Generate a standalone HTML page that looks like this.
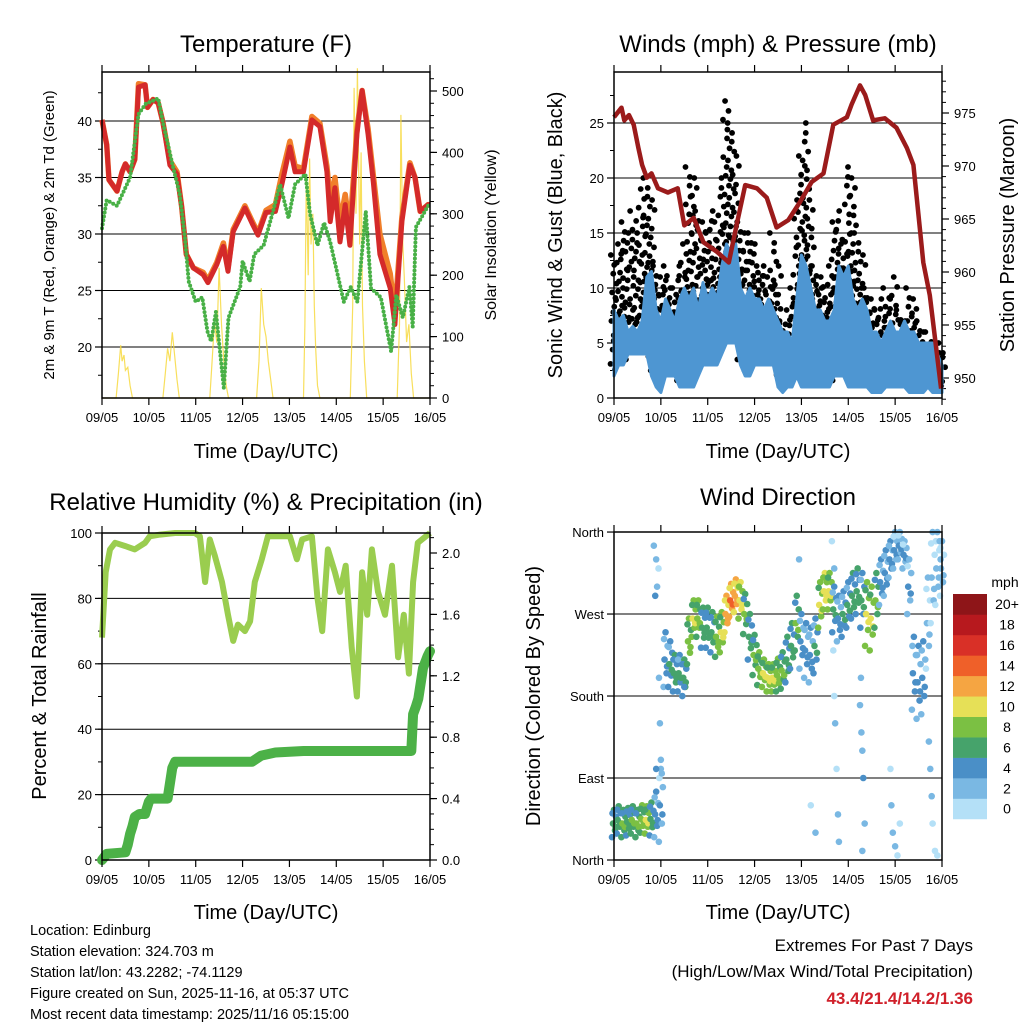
<!DOCTYPE html>
<html><head><meta charset="utf-8"><style>
body{margin:0;background:#fff;}
svg{display:block;font-family:"Liberation Sans",Arial,sans-serif;}
</style></head><body>
<svg id="c" width="1024" height="1024" viewBox="0 0 1024 1024"></svg>
<script>
// ---------- Temperature data ----------
const tempT=[0,.1,.15,.32,.43,.5,.6,.7,.78,.92,.97,1.09,1.2,1.3,1.45,1.6,1.7,1.8,1.95,2.16,2.26,2.45,2.59,2.69,2.8,3.05,3.22,3.33,3.5,3.7,3.84,4.01,4.12,4.3,4.48,4.65,4.8,4.87,4.97,5.08,5.19,5.29,5.44,5.55,5.68,5.79,5.93,6.15,6.25,6.4,6.57,6.68,6.79,6.96,7];
const tempRed=[40.1,37.9,34.8,33.8,35.5,36.2,35.5,36.6,43,43.2,41.2,41.9,41.6,39.9,36.1,35.3,32.4,28.2,27,26.4,25.7,27.3,28.9,26.7,30.2,32.3,30.8,29.9,31.9,32,34.4,37.7,35.5,35.5,40.1,39.5,35.5,31.1,34.1,29.3,32.6,29,38.8,42.7,38.8,34.6,28.2,25.2,22,31.1,36.1,35,32,32.6,32.6];
const tempOrange=[40.1,37.9,34.8,33.8,35.5,36.2,35.5,36.6,43.3,43.2,41.2,41.9,41.6,39.9,36.5,35.5,32.4,28.2,27,26.6,25.9,27.5,29.2,27,30.4,32.5,31,30.1,32.1,32.6,35.3,38.2,36,35.8,40.4,39.8,36,33,35,31,33.5,30.5,39.2,42.7,39.3,35.2,30,26.5,23,31.5,36.3,35,32,32.6,32.6];
const tdT=[0,.1,.32,.6,.78,.93,1.2,1.3,1.5,1.66,1.77,1.85,2,2.14,2.25,2.33,2.43,2.6,2.7,2.95,3,3.15,3.25,3.45,3.65,3.8,3.98,4.12,4.34,4.44,4.6,4.74,4.87,5.16,5.31,5.45,5.63,5.74,5.95,6.17,6.28,6.42,6.56,6.63,6.7,6.96,7];
const tdVal=[30.5,33,32.5,35,40.6,41.5,42,39.9,36.2,33.5,29.7,25.8,24,24.4,21.4,20.5,23.1,16.4,22.6,25.3,27.6,25.8,28.2,29,32,34.4,31.4,34.4,35.3,31.8,29,31,29.3,24,25.3,24,32,25.2,24.4,19.6,24.6,22.6,25.3,21.8,30.6,32.5,32.5];
const solT=[0,.3,.35,.4,.43,.47,.5,.55,.6,.65,1.3,1.35,1.4,1.45,1.5,1.55,1.6,1.65,2.3,2.35,2.4,2.45,2.5,2.55,2.6,2.65,2.7,3.3,3.35,3.4,3.45,3.5,3.55,3.6,3.65,4.3,4.33,4.36,4.4,4.43,4.46,4.5,4.53,4.56,4.6,4.65,5.3,5.35,5.38,5.42,5.45,5.5,5.53,5.56,5.6,5.65,6.3,6.35,6.38,6.42,6.45,6.5,6.55,6.6,6.65,7];
const solVal=[0,0,40,86,60,70,45,50,20,0,0,40,81,60,107,70,30,0,0,60,124,90,212,120,60,20,0,0,60,179,120,100,60,30,0,0,120,363,200,390,250,300,150,80,20,0,0,150,505,300,537,250,400,150,60,0,0,120,461,250,200,91,120,40,0,0];
const tempTicks=[20,25,30,35,40];
const solTicks=[0,100,200,300,400,500];
const dayLabels=["09/05","10/05","11/05","12/05","13/05","14/05","15/05","16/05"];
// ---------- Wind data (0.1-day step) ----------
const windHi=[8,7,7.5,6,6.5,6,7,11,11.5,8,7,9,8,7,9,10,9,10,8,10.5,9,10,9,12,14,13,14,10,9,10,9,9,8,9,8,7,6,6,5,9,13,12,10,8,8,7,7,8,12,11,12,9,8,9,8,6,6,5,6,7,6,6,7,6,6,5,5,5,5,4,3];
const windLo=[2,3,3,4,4,4,4,4,2,1,0.5,2,2,2,1,1,1,1,2,3,3,3,3,4,5,5,5,3,2,2,3,3,3,3,3,1,0.5,1,1,2,1,1,1,1,1,1,1,2,2,2,1,1,1,1,1,0.5,0.5,0.5,1,1,1,1,1,0.5,0.5,0.5,0.5,1,0.5,0.5,0.5];
const gustHi=[13,14,16,15,17,15,19,20,18,12,11,12,10,10,12,14,21,20,17,16,15,17,16,20,27,25,22,16,15,15,14,12,12,11,15,12,7,8,10,18,22,25,18,12,11,10,12,16,17,14,21,20,15,13,10,9,8,9,10,9,11,8,7,10,9,7,6,6,5,5,5];
const presT=[0,.16,.22,.32,.42,.52,.6,.7,.8,.94,1.15,1.36,1.5,1.7,1.91,2.2,2.45,2.63,2.8,3.05,3.26,3.47,3.72,3.97,4.22,4.47,4.68,4.97,5.07,5.25,5.36,5.53,5.78,6.03,6.25,6.39,6.6,6.74,6.98];
const presVal=[974.6,975.5,974.3,974.8,973.9,971.7,970.1,968.9,969.3,967.9,967.5,967.9,964.4,965.1,962.8,961.9,960.9,964.7,968.2,967.9,967,964.2,964.9,966.6,968.5,969.3,973.9,974.6,975.8,977.6,976.7,974.3,974.5,973.6,971.7,970.1,960.9,957.8,949];
const windTicks=[0,5,10,15,20,25];
const presTicks=[950,955,960,965,970,975];
// ---------- RH / precip ----------
const rhT=[0,.08,.17,.28,.5,.7,.92,1.02,1.24,1.56,1.98,2.09,2.2,2.3,2.41,2.56,2.69,2.8,2.9,3.05,3.16,3.26,3.41,3.54,4.01,4.16,4.27,4.48,4.6,4.7,4.82,4.97,5.08,5.2,5.33,5.44,5.55,5.66,5.76,5.89,6.04,6.19,6.32,6.44,6.55,6.64,6.74,7];
const rhVal=[68,88,95,97,96,95,97,99,99.5,100,100,99,85,98,93,85,75,67,72,70,73,85,92,99,99,92,98,99,80,70,95,88,82,90,65,50,88,75,95,82,75,90,62,75,57,85,97,100];
const prT=[0,.1,.5,.55,.6,.65,.7,.8,.92,1.0,1.05,1.4,1.5,1.56,3.2,3.4,3.7,4.3,6.6,6.64,6.7,6.75,6.85,6.95,7];
const prVal=[0,.04,.05,.1,.17,.22,.28,.3,.3,.38,.4,.4,.6,.64,.64,.68,.7,.71,.71,.95,1.0,1.05,1.25,1.33,1.36];
const rhTicks=[0,20,40,60,80,100];
const prTicks=[0,0.4,0.8,1.2,1.6,2.0];
// ---------- Wind direction ----------
const dirC=[40,44,40,42,44,40,45,44,45,50,60,220,215,205,205,200,240,265,265,255,255,250,245,250,270,285,290,285,270,245,225,210,205,200,200,203,208,220,235,260,240,230,225,235,280,295,295,275,265,270,280,290,295,285,270,265,285,305,315,330,340,345,335,300,205,195,200,260,310,320,320];
const dirS=[15,15,15,15,15,15,15,15,18,25,40,30,25,20,20,20,25,20,20,22,22,22,22,22,20,18,18,20,22,25,22,18,15,15,15,18,20,25,25,30,30,30,30,30,25,20,20,25,25,25,25,25,25,30,35,35,30,25,25,20,20,15,15,30,40,40,40,50,50,40,30];
const dirSpd=[6,6,7,6,7,7,8,9,6,4,3,4,5,6,5,6,8,9,8,6,6,6,8,9,12,13,12,10,7,6,7,8,9,9,9,8,7,6,6,7,4,4,4,5,9,10,9,5,4,5,5,6,6,5,9,9,7,4,4,4,3,3,3,3,4,4,4,2,2,2,2];
const outT=[.85,.9,.95,.88,.92,.96,.98,1.0,1.02,.9,4.65,4.7,4.72,4.75,4.78,4.8,4.7,4.68,5.25,5.28,5.3,5.32,5.35,5.3,5.27,5.92,5.95,6.0,6.05,5.9,6.1,6.72,6.75,6.78,6.8,6.85,6.9,6.95,6.97,4.2,4.3,3.95,1.5];
const outD=[345,330,320,290,300,200,150,110,95,100,350,320,150,100,50,20,180,230,170,140,120,90,40,10,200,60,30,15,5,100,40,130,100,70,40,10,5,350,330,60,30,330,190];
const outS=[2,3,1,4,3,2,2,3,3,4,1,2,2,1,2,2,1,1,3,2,3,4,2,2,2,3,2,2,1,1,1,3,2,2,1,1,1,3,3,1,2,2,5];
const dirLabels=["North","East","South","West","North"];
const spdColors=["#b4e0f7","#7ab8e3","#4a8fc7","#46a36b","#7bc043","#e6e057","#f5a542","#ef6029","#d93027","#b7191e","#8e1518"];
const spdLabels=["0","2","4","6","8","10","12","14","16","18","20+"];

const NS="http://www.w3.org/2000/svg";
const svg=document.getElementById('c');
function mk(tag,attrs,parent){const e=document.createElementNS(NS,tag);for(const k in attrs)e.setAttribute(k,attrs[k]);(parent||svg).appendChild(e);return e;}
function txt(s,x,y,size,anchor,parent,extra){const e=mk('text',Object.assign({x:x,y:y,'font-size':size,'text-anchor':anchor||'middle',fill:'#000'},extra||{}),parent);e.textContent=s;return e;}
function poly(ts,vs,sx,sy){return ts.map((t,i)=>sx(t).toFixed(1)+','+sy(vs[i]).toFixed(1)).join(' ');}

function panel(name){
  const g=mk('g',{});
  
  
  return g;
}
function frame(g,x0,x1,y0,y1){
  const r=mk('rect',{x:x0,y:y0,width:x1-x0,height:y1-y0,fill:'none',stroke:'#000','stroke-width':1.5},g);
  
  
}
function xAxis(g,x0,x1,y0,y1,titleY){
  const sx=t=>x0+(x1-x0)*t/7;
  const ax=mk('g',{},g);
  
  
  dayLabels.forEach((l,i)=>{
    const x=sx(i);
    mk('line',{x1:x,x2:x,y1:y1,y2:y1+7,stroke:'#000','stroke-width':1.2},ax);
    mk('line',{x1:x,x2:x,y1:y0,y2:y0-7,stroke:'#000','stroke-width':1.2},ax);
    const t=txt(l,x,y1+24,13,'middle',ax);
    
    
  });
  const tt=txt('Time (Day/UTC)',(x0+x1)/2,titleY,20,'middle',ax);
  
  
}
function leftTicks(g,x0,x1,ticks,sy,minorStep,lo,hi,grid,labelFn){
  const ax=mk('g',{},g);
  
  
  ticks.forEach(v=>{
    const y=sy(v);
    if(grid) mk('line',{x1:x0,x2:x1,y1:y,y2:y,stroke:'#000','stroke-width':1},ax);
    mk('line',{x1:x0,x2:x0-7,y1:y,y2:y,stroke:'#000','stroke-width':1.2},ax);
    const t=txt(labelFn?labelFn(v):String(v),x0-10,y+5,13,'end',ax);
    
    
  });
  if(minorStep){for(let v=Math.ceil(lo/minorStep)*minorStep;v<=hi;v+=minorStep){mk('line',{x1:x0,x2:x0-4,y1:sy(v),y2:sy(v),stroke:'#000','stroke-width':1},ax);}}
}
function rightTicks(g,x1,ticks,sy,minorStep,lo,hi,fmt){
  const ax=mk('g',{},g);
  
  
  ticks.forEach(v=>{
    const y=sy(v);
    mk('line',{x1:x1,x2:x1+7,y1:y,y2:y,stroke:'#000','stroke-width':1.2},ax);
    const t=txt(fmt?fmt(v):String(v),x1+12,y+5,13,'start',ax);
    
    
  });
  if(minorStep){for(let v=lo;v<=hi+1e-9;v+=minorStep){mk('line',{x1:x1,x2:x1+4,y1:sy(v),y2:sy(v),stroke:'#000','stroke-width':1},ax);}}
}
function title(s,x,y){const t=txt(s,x,y,24,'middle');}
function vtitle(s,x,y,size,name){const t=txt(s,x,y,size,'middle',svg,{transform:`rotate(-90 ${x} ${y})`});}

// ===== Panel 1: Temperature =====
(function(){
  const x0=102,x1=430,y0=72,y1=398;
  const g=panel('temperature-panel');
  const sx=t=>x0+(x1-x0)*t/7;
  const sy=v=>347-(v-20)*11.3;
  const ss=w=>398-w*0.614;
  leftTicks(g,x0,x1,tempTicks,sy,2.5,15.6,44,true);
  rightTicks(g,x1,solTicks,ss,20,0,520);
  const sol=mk('polyline',{points:poly(solT,solVal,sx,ss),fill:'none',stroke:'#f7d940','stroke-width':1.2,opacity:0.85},g);
  
  
  const or=mk('polyline',{points:poly(tempT,tempOrange,sx,sy),fill:'none',stroke:'#f07f2a','stroke-width':5.5,'stroke-linejoin':'round'},g);
  
  
  const rd=mk('polyline',{points:poly(tempT,tempRed,sx,sy),fill:'none',stroke:'#d42a2a','stroke-width':5,'stroke-linejoin':'round'},g);
  
  
  const gr=mk('polyline',{points:poly(tdT,tdVal,sx,sy),fill:'none',stroke:'#48b046','stroke-width':4,'stroke-linecap':'round','stroke-dasharray':'0 4'},g);
  
  
  frame(g,x0,x1,y0,y1);
  xAxis(g,x0,x1,y0,y1,458);
  title('Temperature (F)',266,52);
  vtitle('2m & 9m T (Red, Orange) & 2m Td (Green)',54,235,15,'left-axis-title');
  vtitle('Solar Insolation (Yellow)',496,235,16,'right-axis-title');
})();

// ===== Panel 2: Winds =====
(function(){
  const x0=614,x1=942,y0=72,y1=398;
  const g=panel('winds-panel');
  const sx=t=>x0+(x1-x0)*t/7;
  const sy=v=>398-v*11;
  const sp=p=>378-(p-950)*10.6;
  leftTicks(g,x0,x1,windTicks,sy,2.5,0,29,true);
  rightTicks(g,x1,presTicks,sp,1,948,978);
  const gd=mk('g',{fill:'#000'},g);
  
  
  const offs=[-2.2,0.8,-0.6,2.1,-1.5,1.4,0,-2.6,2.5];
  for(let i=0;i<gustHi.length;i++){
    const lo=windLo[i]+0.5,hi=gustHi[i];
    for(let c=0;c<2;c++){
      let k=(i+c*4)%9;
      const xc=sx(i*0.1)+(c?1.4:-1.4);
      let v=hi-c*0.9;
      while(v>=lo){
        mk('circle',{cx:xc+offs[k%9]*0.8,cy:sy(v),r:2.9},gd);
        v-=(v>windHi[i]+3?1.7:1.3);
        k++;
      }
    }
  }
  const ts=windHi.map((_,i)=>i*0.1);
  const top=ts.map((t,i)=>sx(t).toFixed(1)+','+sy(windHi[i]).toFixed(1));
  const bot=ts.map((t,i)=>sx(t).toFixed(1)+','+sy(windLo[i]).toFixed(1)).reverse();
  const b=mk('polygon',{points:top.concat(bot).join(' '),fill:'#4e96d2',stroke:'#4e96d2','stroke-width':3,'stroke-linejoin':'round'},g);
  
  
  const p=mk('polyline',{points:poly(presT,presVal,sx,sp),fill:'none',stroke:'#9b1b1b','stroke-width':4.5,'stroke-linejoin':'round'},g);
  
  
  frame(g,x0,x1,y0,y1);
  xAxis(g,x0,x1,y0,y1,458);
  title('Winds (mph) & Pressure (mb)',778,52);
  vtitle('Sonic Wind & Gust (Blue, Black)',562,235,20,'left-axis-title');
  vtitle('Station Pressure (Maroon)',1014,235,20,'right-axis-title');
})();

// ===== Panel 3: RH & precip =====
(function(){
  const x0=102,x1=430,y0=533,y1=860;
  const g=panel('humidity-precip-panel');
  const sx=t=>x0+(x1-x0)*t/7;
  const sy=v=>860-v*3.27;
  const sr=v=>860-v*153.5;
  leftTicks(g,x0,x1,rhTicks,sy,10,0,100,true);
  rightTicks(g,x1,prTicks,sr,0.1,0,2.1,v=>v.toFixed(1));
  const rh=mk('polyline',{points:poly(rhT,rhVal,sx,sy),fill:'none',stroke:'#9acd4f','stroke-width':6,'stroke-linejoin':'round'},g);
  
  
  const pr=mk('polyline',{points:poly(prT,prVal,sx,sr),fill:'none',stroke:'#4cb147','stroke-width':10,'stroke-linejoin':'round','stroke-linecap':'round'},g);
  
  
  frame(g,x0,x1,y0,y1);
  xAxis(g,x0,x1,y0,y1,919);
  title('Relative Humidity (%) & Precipitation (in)',266,510);
  vtitle('Percent & Total Rainfall',46,696,20,'left-axis-title');
})();

// ===== Panel 4: Wind direction =====
(function(){
  const x0=614,x1=942,y0=532,y1=860;
  const g=panel('wind-direction-panel');
  const sx=t=>x0+(x1-x0)*t/7;
  const sy=d=>860-d*0.911;
  const col=s=>spdColors[Math.max(0,Math.min(10,Math.floor(s/2)))];
  leftTicks(g,x0,x1,[0,90,180,270,360],sy,0,0,0,true,v=>dirLabels[v/90]);
  const pg=mk('g',{},g);
  
  
  const ko=[-1,-0.5,0,0.5,1,-0.25,0.75];
  const xo=[-2,1,-1,2,0,1.5,-1.5];
  const so=[-1,0.5,1,-0.5,0,1.5,-1.5];
  for(let i=0;i<dirC.length;i++){
    for(let k=0;k<7;k++){
      let d=dirC[i]+ko[k]*dirS[i];
      if(d>360)d-=360; if(d<0)d+=360;
      mk('circle',{cx:sx(i*0.1)+xo[k],cy:sy(d),r:3.3,fill:col(dirSpd[i]+so[k])},pg);
    }
  }
  for(let j=0;j<outT.length;j++){
    mk('circle',{cx:sx(outT[j]),cy:sy(outD[j]),r:3.3,fill:col(outS[j])},pg);
  }
  frame(g,x0,x1,y0,y1);
  xAxis(g,x0,x1,y0,y1,919);
  title('Wind Direction',778,505);
  vtitle('Direction (Colored By Speed)',540,696,20,'left-axis-title');
  const cb=mk('g',{},svg);
  
  
  const h=20.45;
  for(let i=0;i<11;i++){
    const y=594+(10-i)*h;
    mk('rect',{x:953,y:y,width:34,height:h+0.3,fill:spdColors[i]},cb);
    txt(spdLabels[i],1007,y+h/2+5,14,'middle',cb);
  }
  txt('mph',1005,587,14,'middle',cb);
})();

// ===== Footer =====
const info=["Location: Edinburg","Station elevation: 324.703 m","Station lat/lon: 43.2282; -74.1129","Figure created on Sun, 2025-11-16, at 05:37 UTC","Most recent data timestamp: 2025/11/16 05:15:00"];
const fg=mk('g',{});


info.forEach((s,i)=>txt(s,30,935+i*21,14.5,'start',fg));
const eg=mk('g',{});


txt('Extremes For Past 7 Days',973,951,17,'end',eg);
txt('(High/Low/Max Wind/Total Precipitation)',973,977,17,'end',eg);
txt('43.4/21.4/14.2/1.36',973,1004,17,'end',eg,{fill:'#d0202a','font-weight':'bold'});
</script>
</body></html>
